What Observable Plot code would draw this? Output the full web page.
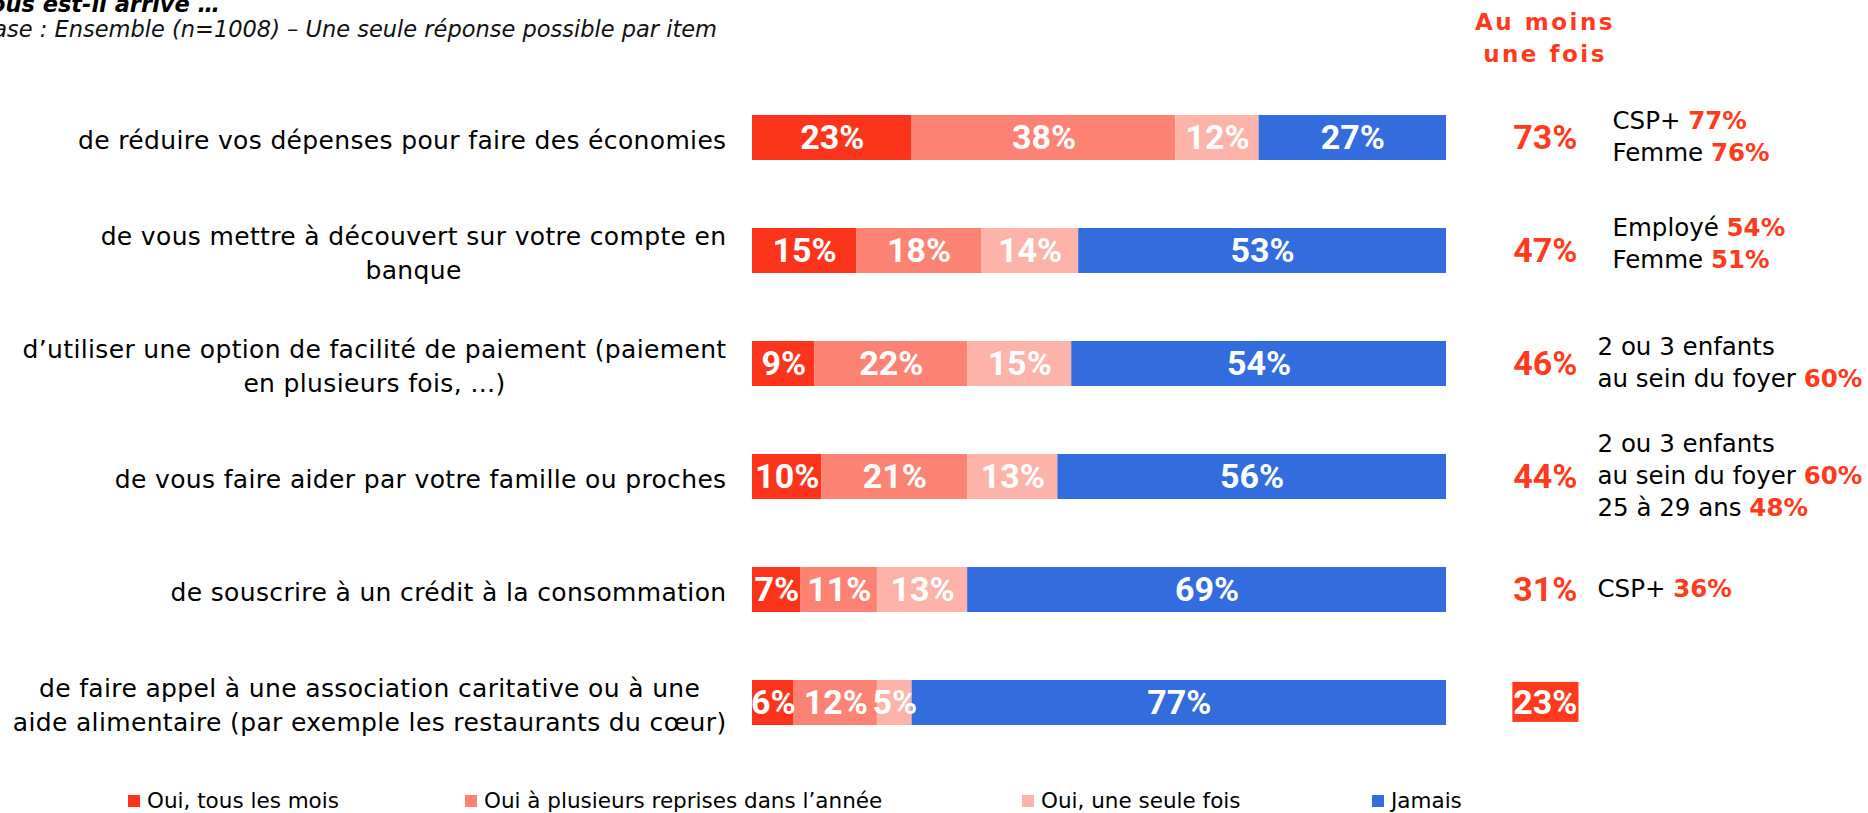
<!DOCTYPE html>
<html><head><meta charset="utf-8">
<script src="https://cdn.jsdelivr.net/npm/d3@7"></script>
<script src="https://cdn.jsdelivr.net/npm/@observablehq/plot@0.6"></script>
<style>
html,body{margin:0;padding:0;background:#fff;overflow:hidden;}
#wrap{position:relative;width:1868px;height:813px;font-family:"DejaVu Sans",sans-serif;overflow:hidden;}
#wrap svg{display:block;}
.abs{position:absolute;white-space:nowrap;}
</style></head><body><div id="wrap"></div>
<script>
// ---- data ----
const title = "Au cours des 12 derniers mois, vous est-il arrivé …";
const subtitle = "Base : Ensemble (n=1008) – Une seule réponse possible par item";
const totalHeader = ["Au moins", "une fois"];
const items = [
  "de réduire vos dépenses pour faire des économies",
  "de vous mettre à découvert sur votre compte en\nbanque",
  "d’utiliser une option de facilité de paiement (paiement\nen plusieurs fois, …)",
  "de vous faire aider par votre famille ou proches",
  "de souscrire à un crédit à la consommation",
  "de faire appel à une association caritative ou à une\naide alimentaire (par exemple les restaurants du cœur)"
];
const categories = ["Oui, tous les mois", "Oui à plusieurs reprises dans l’année", "Oui, une seule fois", "Jamais"];
const monthly = [23, 15, 9, 10, 7, 6];
const several = [38, 18, 22, 21, 11, 12];
const once    = [12, 14, 15, 13, 13, 5];
const never   = [27, 53, 54, 56, 69, 77];
const atLeastOnce = [73, 47, 46, 44, 31, 23];
const subgroups = [
  ["CSP+ 77%", "Femme 76%"],
  ["Employé 54%", "Femme 51%"],
  ["2 ou 3 enfants", "au sein du foyer 60%"],
  ["2 ou 3 enfants", "au sein du foyer 60%", "25 à 29 ans 48%"],
  ["CSP+ 36%"],
  []
];
const highlightIndex = 5;

// ---- styles / layout ----
const colors = ["#FD341C", "#FC8374", "#FDB3AA", "#336CDD"];
const red = "#FF3A1D";
const legendLeft = [128, 465, 1022, 1372];
const subShift = [[15, 0], [15, -6], [0, 0], [0, 0], [0, 0], [0, 0]];

const series = [monthly, several, once, never];
const tidy = [];
items.forEach((item, i) => series.forEach((s, j) => tidy.push({item, cat: categories[j], value: s[i]})));
const rows = items.map((item, i) => ({item, i, total: atLeastOnce[i], sub: subgroups[i].join("\n"), hi: i === highlightIndex}));

const wrap = document.getElementById("wrap");

const plot = Plot.plot({
  width: 1868, height: 775,
  marginLeft: 752, marginRight: 422, marginTop: 91, marginBottom: 26,
  x: {domain: [0, 100], axis: null},
  y: {domain: items, axis: null, paddingInner: 0.6, paddingOuter: 0.2},
  color: {domain: categories, range: colors},
  style: {fontFamily: "DejaVu Sans", background: "white", overflow: "visible"},
  marks: [
    Plot.barX(tidy, Plot.stackX({x: "value", y: "item", fill: "cat"})),
    Plot.text(tidy, Plot.stackX({x: "value", y: "item", text: d => d.value + "%", fill: "white", fontSize: 34, fontWeight: 700, fontFamily: "Roboto"})),
    Plot.text(rows, {y: "item", text: "item", frameAnchor: "left", textAnchor: "end", dx: -26, fontSize: 25, lineHeight: 1.36, fill: "black"}),
    Plot.text(rows, {filter: d => !d.hi, y: "item", text: d => d.total + "%", frameAnchor: "right", dx: 131, textAnchor: "end", fontSize: 34, fontWeight: 700, fontFamily: "Roboto", fill: red}),
    Plot.text(rows, {filter: d => d.hi, y: "item", text: d => d.total + "%", frameAnchor: "right", dx: 131, textAnchor: "end", fontSize: 34, fontWeight: 700, fontFamily: "Roboto", fill: "white"}),
    Plot.text(rows, {filter: d => d.sub !== "", y: "item", text: "sub", frameAnchor: "right", dx: 151, dy: -3, textAnchor: "start", fontSize: 24.5, lineHeight: 1.3, fill: "black"})
  ]
});
wrap.appendChild(plot);

const ns = "http://www.w3.org/2000/svg";
const groups = plot.querySelectorAll('g[aria-label="text"]');
// item labels: slightly wider tracking, lines centred inside a right-aligned block
groups[1].setAttribute("letter-spacing", "0.35");
groups[1].querySelectorAll("text").forEach(t => {
  const spans = t.querySelectorAll("tspan");
  if (spans.length > 1) {
    const W = Math.max(...[...spans].map(s => s.getComputedTextLength()));
    t.setAttribute("text-anchor", "middle");
    spans.forEach(s => s.setAttribute("x", -W / 2));
  }
});
// red bold values in subgroup annotations
function colorize(node) {
  const m = node.textContent.match(/^(.*\s)(\d+%)$/);
  if (!m) return;
  node.textContent = m[1];
  const ts = document.createElementNS(ns, "tspan");
  ts.setAttribute("fill", red);
  ts.setAttribute("font-weight", "700");
  ts.textContent = m[2];
  node.appendChild(ts);
}
const subRows = rows.filter(d => d.sub !== "");
groups[4].querySelectorAll("text").forEach((t, k) => {
  const [sx, sy] = subShift[subRows[k].i];
  const tr = t.getAttribute("transform") || "";
  const m = tr.match(/translate\(([-\d.e]+),\s*([-\d.e]+)\)/);
  if (m) t.setAttribute("transform", `translate(${+m[1] + sx},${+m[2] + sy})`);
  const spans = t.querySelectorAll("tspan");
  if (spans.length) spans.forEach(colorize); else colorize(t);
});
// red box behind highlighted total
groups[3].querySelectorAll("text").forEach(t => {
  const bb = t.getBBox();
  const r = document.createElementNS(ns, "rect");
  r.setAttribute("x", bb.x - 1); r.setAttribute("y", bb.y);
  r.setAttribute("width", bb.width + 2); r.setAttribute("height", bb.height);
  r.setAttribute("fill", red);
  r.setAttribute("transform", t.getAttribute("transform") || "");
  t.parentNode.insertBefore(r, t);
});

// header texts
function addDiv(text, css) {
  const d = document.createElement("div");
  d.className = "abs"; d.textContent = text; d.style.cssText += css; wrap.appendChild(d); return d;
}
addDiv(title, "right:1648px;top:-8px;font-size:22.5px;line-height:24px;font-weight:700;font-style:italic;color:#000;");
addDiv(subtitle, "right:1151px;top:18px;font-size:22.5px;line-height:23px;font-style:italic;color:#111;");
const hdr = addDiv("", "left:1445px;width:200px;top:6px;font-size:23px;line-height:32px;font-weight:700;color:" + red + ";text-align:center;letter-spacing:2.5px;");
hdr.innerHTML = totalHeader.join("<br>");

// legend
const leg = document.createElement("div");
leg.style.cssText = "position:absolute;left:0;top:775px;width:1868px;height:38px;";
categories.forEach((c, i) => {
  const it = document.createElement("div");
  it.className = "abs";
  it.style.cssText += `left:${legendLeft[i]}px;top:15px;height:22px;display:flex;align-items:center;font-size:21.5px;line-height:22px;color:#000;`;
  const sw = document.createElement("span");
  sw.style.cssText = `display:inline-block;width:12px;height:12px;background:${colors[i]};margin-right:7px;`;
  it.appendChild(sw);
  it.appendChild(document.createTextNode(c));
  leg.appendChild(it);
});
wrap.appendChild(leg);
</script></body></html>
